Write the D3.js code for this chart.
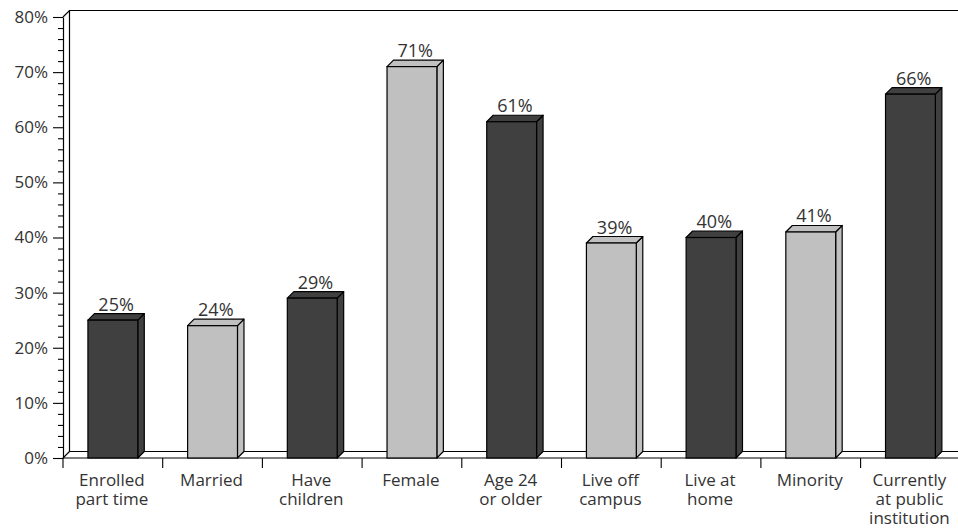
<!DOCTYPE html>
<html>
<head>
<meta charset="utf-8">
<script src="https://cdn.jsdelivr.net/npm/d3@7/dist/d3.min.js"></script>
<style>
  html, body { margin: 0; padding: 0; background: #fff; }
  svg { display: block; }
  text { font-family: "Open Sans", sans-serif; fill: #333; }
</style>
</head>
<body>
<svg id="chart" width="958" height="529"></svg>
<script>
// Student characteristics (percent)
const categories = [
  ["Enrolled", "part time"],
  ["Married"],
  ["Have", "children"],
  ["Female"],
  ["Age 24", "or older"],
  ["Live off", "campus"],
  ["Live at", "home"],
  ["Minority"],
  ["Currently", "at public", "institution"]
];
const values = [25, 24, 29, 71, 61, 39, 40, 41, 66];
const shades = ["dark", "light", "dark", "light", "dark", "light", "dark", "light", "dark"];
const yTicks = [0, 10, 20, 30, 40, 50, 60, 70, 80];

const fills = { dark: "#404040", light: "#c0c0c0" };

const W = 958, H = 529;
const x0 = 63, band = 99.7;
const yBase = 458, yTop = 17;
const dx = 6.5, dy = 6.5;   // depth of the 3D effect

const svg = d3.select("#chart");

const x = d3.scaleBand()
  .domain(d3.range(categories.length))
  .range([x0, x0 + band * categories.length])
  .paddingInner(0.5).paddingOuter(0.25);

const y = d3.scaleLinear().domain([0, 80]).range([yBase, yTop]);

// back wall and floor
const frame = svg.append("g").attr("fill", "none").attr("stroke", "#000").attr("stroke-width", 1.2);
frame.append("path").attr("d",
  `M${x0},${yTop}L${x0 + dx},${yTop - dy}L${W},${yTop - dy}` +
  `M${x0 + dx},${yTop - dy}L${x0 + dx},${yBase - dy}L${W},${yBase - dy}` +
  `M${x0},${yBase}L${x0 + dx},${yBase - dy}`);

// value axis with minor ticks every 2%
const yAxis = d3.axisLeft(y)
  .tickValues(d3.range(0, 81, 2))
  .tickFormat(d => d % 10 === 0 ? d + "%" : "")
  .tickSizeOuter(0);
const ga = svg.append("g").attr("transform", `translate(${x0},0)`).call(yAxis);
ga.select(".domain").attr("stroke", "#000").attr("stroke-width", 1.2);
ga.selectAll(".tick line")
  .attr("stroke", "#000")
  .attr("stroke-width", 1.1)
  .attr("x2", d => d % 10 === 0 ? -10 : -5);
ga.selectAll(".tick text")
  .attr("x", -15)
  .style("font-size", "17px")
  .style("font-family", "'Open Sans', sans-serif")
  .attr("fill", "#333");

// category axis: baseline and separators
const gx = svg.append("g");
gx.append("line").attr("x1", x0).attr("x2", W).attr("y1", yBase).attr("y2", yBase)
  .attr("stroke", "#000").attr("stroke-width", 1.2);
gx.selectAll("line.sep").data(d3.range(categories.length + 1)).join("line")
  .attr("class", "sep")
  .attr("x1", i => x0 + i * band).attr("x2", i => x0 + i * band)
  .attr("y1", yBase).attr("y2", yBase + 10)
  .attr("stroke", "#000").attr("stroke-width", 1.1);

gx.selectAll("text.cat").data(categories).join("text")
  .attr("class", "cat")
  .attr("text-anchor", "middle")
  .style("font-size", "17px")
  .attr("transform", (d, i) => `translate(${x(i) + x.bandwidth() / 2 - 1},0)`)
  .selectAll("tspan").data(d => d).join("tspan")
  .attr("x", 0)
  .attr("y", (d, j) => 486 + j * 19)
  .text(d => d);

// 3D bars
const bars = svg.append("g").selectAll("g.bar").data(values).join("g").attr("class", "bar");
bars.each(function(v, i) {
  const g = d3.select(this);
  const bx = x(i), bw = x.bandwidth(), by = y(v);
  const fill = fills[shades[i]];
  g.append("path")
    .attr("d", `M${bx + bw},${by}L${bx + bw + dx},${by - dy}L${bx + bw + dx},${yBase - dy}L${bx + bw},${yBase}Z`)
    .attr("fill", fill).attr("stroke", "#000").attr("stroke-width", 1.2).attr("stroke-linejoin", "round");
  g.append("path")
    .attr("d", `M${bx},${by}L${bx + dx},${by - dy}L${bx + bw + dx},${by - dy}L${bx + bw},${by}Z`)
    .attr("fill", fill).attr("stroke", "#000").attr("stroke-width", 1.2).attr("stroke-linejoin", "round");
  g.append("rect")
    .attr("x", bx).attr("y", by).attr("width", bw).attr("height", yBase - by)
    .attr("fill", fill).attr("stroke", "#000").attr("stroke-width", 1.2);
  g.append("text")
    .attr("x", bx + bw / 2 + dx / 2)
    .attr("y", by - dy - 3)
    .attr("text-anchor", "middle")
    .style("font-size", "18px")
    .text(v + "%");
});
</script>
</body>
</html>
